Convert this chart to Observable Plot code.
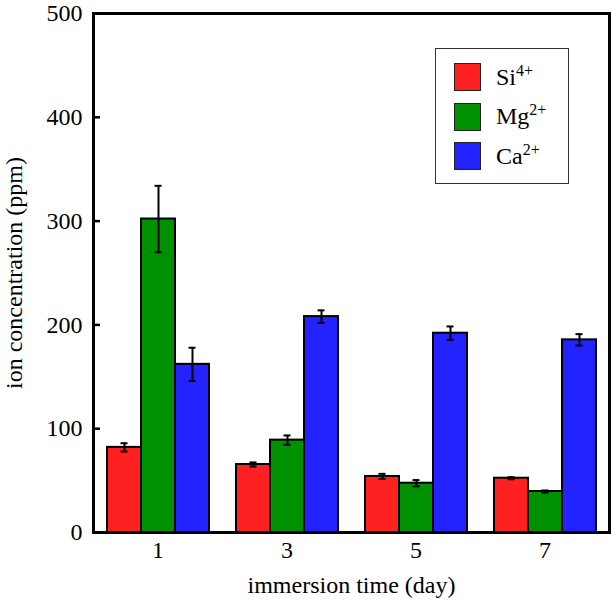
<!DOCTYPE html>
<html>
<head>
<meta charset="utf-8">
<script src="https://cdn.jsdelivr.net/npm/d3@7"></script>
<script src="https://cdn.jsdelivr.net/npm/@observablehq/plot@0.6"></script>
</head>
<body style="margin:0;background:#fff">
<div id="wrap" style="position:relative;width:612px;height:600px"></div>
<script>
const days = [1, 3, 5, 7];
const ions = ["Si4+", "Mg2+", "Ca2+"];
const ionLabels = [["Si", "4+"], ["Mg", "2+"], ["Ca", "2+"]];
const colors = ["#ff2121", "#009100", "#2323ff"];
const siValues = [82, 65.5, 54, 52.3];
const siErrors = [4, 2, 2.5, 1];
const mgValues = [302, 89, 47.5, 39.5];
const mgErrors = [32, 4.5, 3, 1];
const caValues = [162, 208, 192, 185.6];
const caErrors = [16, 6, 6.5, 5.5];
const yTicks = [0, 100, 200, 300, 400, 500];

const series = [siValues, mgValues, caValues];
const errors = [siErrors, mgErrors, caErrors];
const data = [];
days.forEach((d, i) => ions.forEach((ion, j) => {
  data.push({day: d, ion, value: series[j][i], err: errors[j][i]});
}));

const serif = "'Liberation Serif'";
const dims = {width: 612, height: 600, marginLeft: 93, marginRight: 3, marginTop: 13, marginBottom: 68};

// bars, error bars and category axis (faceted by day)
const plot = Plot.plot({
  ...dims,
  style: {fontFamily: serif, fontSize: "24px", color: "#000", background: "#fff"},
  fx: {domain: days, paddingInner: 0.2, paddingOuter: 0.1, axis: null},
  x: {domain: ions, padding: 0, axis: null},
  y: {domain: [0, 500], axis: null},
  color: {domain: ions, range: colors},
  marks: [
    Plot.barY(data, {fx: "day", x: "ion", y: "value", fill: "ion", stroke: "#000", strokeWidth: 2}),
    Plot.ruleX(data, {fx: "day", x: "ion", y1: d => d.value - d.err, y2: d => d.value + d.err, stroke: "#000", strokeWidth: 2}),
    Plot.tickY(data, {fx: "day", x: "ion", y: d => d.value + d.err, stroke: "#000", strokeWidth: 2, insetLeft: 13.5, insetRight: 13.5}),
    Plot.tickY(data, {fx: "day", x: "ion", y: d => d.value - d.err, stroke: "#000", strokeWidth: 2, insetLeft: 13.5, insetRight: 13.5}),
    Plot.axisFx({anchor: "bottom", tickSize: 0, tickPadding: 8, fontSize: 24, fontFamily: serif,
      label: "immersion time (day)", labelAnchor: "center", labelOffset: 60, labelArrow: "none"})
  ]
});

// frame and value axis over the whole plot area
const overlay = Plot.plot({
  ...dims,
  style: {fontFamily: serif, fontSize: "24px", color: "#000", background: "transparent", position: "absolute", left: "0px", top: "0px"},
  y: {domain: [0, 500]},
  marks: [
    Plot.frame({stroke: "#000", strokeWidth: 3}),
    Plot.axisY({ticks: yTicks, tickSize: -7, tickPadding: 18, strokeWidth: 2.5, fontSize: 24, fontFamily: serif,
      label: "ion concentration (ppm)", labelAnchor: "center", labelOffset: 89, labelArrow: "none"})
  ]
});

d3.select(plot).selectAll("text, tspan").style("font-family", serif);
d3.select(overlay).selectAll("text, tspan").style("font-family", serif);

const wrap = document.getElementById("wrap");
wrap.appendChild(plot);
wrap.appendChild(overlay);

const legend = document.createElement("div");
legend.setAttribute("style", "position:absolute;left:435px;top:48px;width:134px;height:136px;border:1.5px solid #333;background:#fff;box-sizing:border-box;font-family:'Liberation Serif'");
ionLabels.forEach(([base, sup], i) => {
  const row = document.createElement("div");
  row.setAttribute("style", `position:absolute;left:18px;top:${14 + i * 39.5}px;height:28px;display:flex;align-items:center;font-size:24px;color:#000;font-family:'Liberation Serif'`);
  row.innerHTML = `<div style="width:27px;height:28px;border:1.5px solid #222;box-sizing:border-box;margin-right:15px;background:${colors[i]}"></div>` +
    `<span style="font-family:'Liberation Serif';font-size:24px">${base}<span style="font-family:'Liberation Serif';font-size:16px;position:relative;top:-9px">${sup}</span></span>`;
  legend.appendChild(row);
});
wrap.appendChild(legend);
</script>
</body>
</html>
